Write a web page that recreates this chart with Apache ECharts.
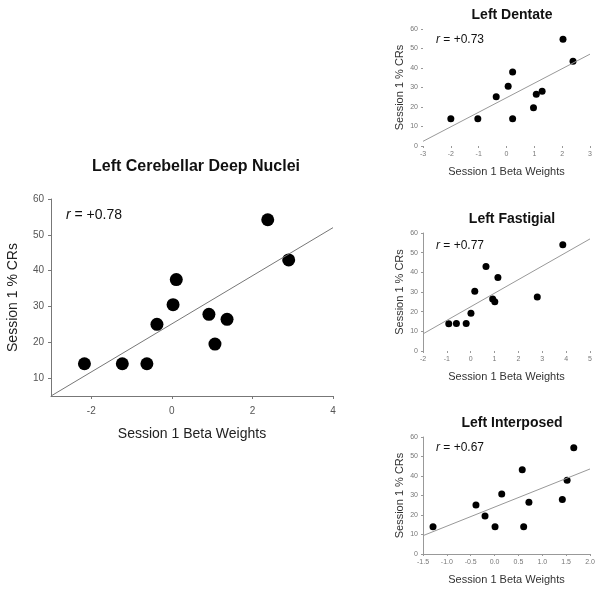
<!DOCTYPE html>
<html><head><meta charset="utf-8">
<script src="https://cdn.jsdelivr.net/npm/echarts@6/dist/echarts.min.js"></script>
<style>html,body{margin:0;padding:0;background:#fff}#c{width:600px;height:591px}</style>
</head><body><div id="c"></div>
<script>
// ---- data ----
const mainX = [-2.17,-1.23,-0.62,-0.37,0.03,0.11,0.92,1.07,1.37,2.38,2.90];
const mainY = [14,14,14,25,30.5,37.5,27.8,19.5,26.4,54.2,43];
const mainFit = [[-3,5],[4,52]];
const dentX = [-2.0,-1.03,-0.37,0.06,0.22,0.22,0.97,1.07,1.28,2.03,2.39];
const dentY = [14,14,25.2,30.7,37.9,14,19.6,26.6,28.1,54.7,43.4];
const dentFit = [[-3,2.4],[3,47.1]];
const fastX = [-0.92,-0.6,-0.19,0.01,0.17,0.64,0.92,1.01,1.14,2.79,3.86];
const fastY = [13.8,14,14,19.2,30.4,43,26.4,25,37.4,27.5,54];
const fastFit = [[-2,8.7],[5,57]];
const intX = [-1.29,-0.39,-0.2,0.01,0.15,0.58,0.61,0.72,1.42,1.52,1.66];
const intY = [14,25.1,19.5,14,30.8,43.2,14,26.5,28,37.8,54.5];
const intFit = [[-1.5,9.4],[2,43.6]];
const mainXTicks = [-2,0,2,4];
const mainYTicks = [10,20,30,40,50,60];
const titles = ['Left Cerebellar Deep Nuclei','Left Dentate','Left Fastigial','Left Interposed'];
const rVals = ['+0.78','+0.73','+0.77','+0.67'];
const xName = 'Session 1 Beta Weights';
const yName = 'Session 1 % CRs';

const F = 'Liberation Sans, Arial, sans-serif';
const pts = (xs, ys) => xs.map((x,i)=>[x, ys[i]]);

const grids = [
  {left:51, top:199, width:282, height:197},
  {left:423, top:29, width:167, height:117},
  {left:423, top:233, width:167, height:118},
  {left:423, top:437, width:167, height:117}
];
function smallX(i, min, max, interval, showLine, fmt){
  return {type:'value', gridIndex:i, min, max, interval,
    name:xName, nameLocation:'middle', nameGap:20,
    nameTextStyle:{fontFamily:F, fontSize:11, color:'#333'},
    axisLine:{show:showLine, onZero:false, lineStyle:{color:'#999'}},
    axisTick:{show:true, length:2, lineStyle:{color:'#999'}},
    axisLabel:{fontFamily:F, fontSize:7, color:'#777', margin:5, formatter:fmt},
    splitLine:{show:false}};
}
function smallY(i, showLine){
  return {type:'value', gridIndex:i, min:0, max:60, interval:10,
    name:yName, nameLocation:'middle', nameGap:18,
    nameTextStyle:{fontFamily:F, fontSize:11, color:'#333'},
    axisLine:{show:showLine, onZero:false, lineStyle:{color:'#999'}},
    axisTick:{show:true, length:2, lineStyle:{color:'#999'}},
    axisLabel:{fontFamily:F, fontSize:7, color:'#777', margin:5},
    splitLine:{show:false}};
}
const rText = (v, left, top, size) => ({
  text:'{i|r} = ' + v, left, top,
  textStyle:{fontFamily:F, fontSize:size, fontWeight:'normal', color:'#111',
    rich:{i:{fontStyle:'italic', fontFamily:F, fontSize:size, color:'#111'}}}
});

const option = {
  animation:false,
  backgroundColor:'#fff',
  title:[
    {text:titles[0], left:191, top:154, textAlign:'center', textStyle:{fontFamily:F, fontSize:16, fontWeight:'bold', color:'#111'}},
    {text:titles[1], left:507, top:3, textAlign:'center', textStyle:{fontFamily:F, fontSize:14, fontWeight:'bold', color:'#111'}},
    {text:titles[2], left:507, top:207, textAlign:'center', textStyle:{fontFamily:F, fontSize:14, fontWeight:'bold', color:'#111'}},
    {text:titles[3], left:507, top:411, textAlign:'center', textStyle:{fontFamily:F, fontSize:14, fontWeight:'bold', color:'#111'}},
    rText(rVals[0], 61, 203, 14),
    rText(rVals[1], 431, 29, 12),
    rText(rVals[2], 431, 235, 12),
    rText(rVals[3], 431, 437, 12)
  ],
  grid: grids,
  xAxis:[
    {type:'value', gridIndex:0, min:-3, max:4,
      name:xName, nameLocation:'middle', nameGap:31,
      nameTextStyle:{fontFamily:F, fontSize:14, color:'#222'},
      axisLine:{onZero:false, lineStyle:{color:'#777'}},
      axisTick:{show:true, length:3, customValues:mainXTicks, lineStyle:{color:'#777'}},
      axisLabel:{fontFamily:F, fontSize:10, color:'#555', margin:10, customValues:mainXTicks},
      splitLine:{show:false}},
    smallX(1,-3,3,1,false),
    smallX(2,-2,5,1,false),
    smallX(3,-1.5,2,0.5,true, v=>v.toFixed(1))
  ],
  yAxis:[
    {type:'value', gridIndex:0, min:5, max:60,
      name:yName, nameLocation:'middle', nameGap:31,
      nameTextStyle:{fontFamily:F, fontSize:14, color:'#222'},
      axisLine:{onZero:false, lineStyle:{color:'#777'}},
      axisTick:{show:true, length:3, customValues:mainYTicks, lineStyle:{color:'#777'}},
      axisLabel:{fontFamily:F, fontSize:10, color:'#555', margin:7, customValues:mainYTicks},
      splitLine:{show:false}},
    smallY(1,false),
    smallY(2,true),
    smallY(3,true)
  ],
  series:[
    {type:'line', xAxisIndex:0, yAxisIndex:0, data:mainFit, symbol:'none', lineStyle:{color:'#777', width:1}, silent:true},
    {type:'scatter', xAxisIndex:0, yAxisIndex:0, data:pts(mainX, mainY), symbolSize:13, itemStyle:{color:'#000', opacity:1}},
    {type:'line', xAxisIndex:1, yAxisIndex:1, data:dentFit, symbol:'none', lineStyle:{color:'#999', width:1}, silent:true},
    {type:'scatter', xAxisIndex:1, yAxisIndex:1, data:pts(dentX, dentY), symbolSize:7, itemStyle:{color:'#000', opacity:1}},
    {type:'line', xAxisIndex:2, yAxisIndex:2, data:fastFit, symbol:'none', lineStyle:{color:'#999', width:1}, silent:true},
    {type:'scatter', xAxisIndex:2, yAxisIndex:2, data:pts(fastX, fastY), symbolSize:7, itemStyle:{color:'#000', opacity:1}},
    {type:'line', xAxisIndex:3, yAxisIndex:3, data:intFit, symbol:'none', lineStyle:{color:'#999', width:1}, silent:true},
    {type:'scatter', xAxisIndex:3, yAxisIndex:3, data:pts(intX, intY), symbolSize:7, itemStyle:{color:'#000', opacity:1}}
  ]
};
echarts.init(document.getElementById('c'), null, {renderer:'canvas'}).setOption(option);
</script>
</body></html>
